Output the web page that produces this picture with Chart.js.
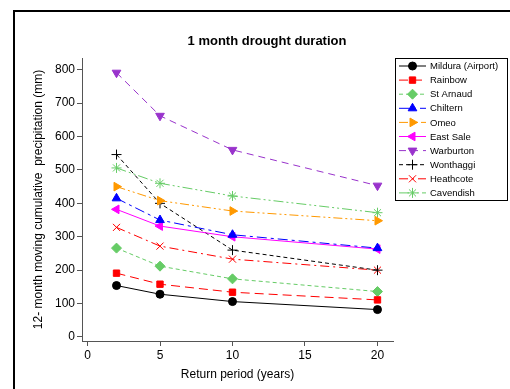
<!DOCTYPE html>
<html lang="en">
<head>
    <meta charset="UTF-8">
    <title>1 month drought duration</title>
    <script src="https://cdn.jsdelivr.net/npm/chart.js"></script>
    <style>
        body {
            margin: 0;
            background: #fff;
            overflow: hidden;
        }
        .wrap {
            width: 510px;
            height: 389px;
            position: relative;
        }
    </style>
</head>
<body>
<div class="wrap"><canvas id="droughtChart"></canvas></div>

<script>
    // return periods (years)
    const returnPeriods = [2, 5, 10, 20];
    const xTicks = [0, 5, 10, 15, 20];
    const yTicks = [0, 100, 200, 300, 400, 500, 600, 700, 800];

    const stations = ['Mildura (Airport)', 'Rainbow', 'St Arnaud', 'Chiltern', 'Omeo',
                      'East Sale', 'Warburton', 'Wonthaggi', 'Heathcote', 'Cavendish'];

    const mildura   = [154, 128, 106, 82];
    const rainbow   = [191, 158, 134, 111];
    const stArnaud  = [266, 212, 174, 136];
    const chiltern  = [415, 350, 306, 266];
    const omeo      = [450, 408, 377, 348];
    const eastSale  = [382, 332, 300, 263];
    const warburton = [791, 662, 560, 453];
    const wonthaggi = [546, 400, 260, 200];
    const heathcote = [328, 272, 233, 200];
    const cavendish = [506, 460, 422, 372];

    const seriesValues = [mildura, rainbow, stArnaud, chiltern, omeo,
                          eastSale, warburton, wonthaggi, heathcote, cavendish];

    // look of each series: colour, dash, marker
    const styles = [
        { color: '#000000', dash: [],              point: 'circle',   rot: 0,   r: 4 },
        { color: '#ff0000', dash: [9, 5],          point: 'rect',     rot: 0,   r: 4.5 },
        { color: '#66cc66', dash: [4, 3],          point: 'rectRot',  rot: 0,   r: 5 },
        { color: '#0000ff', dash: [10, 4, 3, 4],   point: 'triangle', rot: 0,   r: 5 },
        { color: '#ff9900', dash: [9, 3, 2, 3, 2, 3], point: 'triangle', rot: 90, r: 5 },
        { color: '#ff00ff', dash: [],              point: 'triangle', rot: -90, r: 5 },
        { color: '#9933cc', dash: [7, 5],          point: 'triangle', rot: 180, r: 5 },
        { color: '#000000', dash: [4, 3],          point: 'cross',    rot: 0,   r: 5 },
        { color: '#ff0000', dash: [9, 4, 2, 4],    point: 'crossRot', rot: 0,   r: 5 },
        { color: '#66cc66', dash: [10, 3, 2, 3, 2, 3], point: 'star', rot: 0,   r: 5 }
    ];

    const datasets = stations.map((name, i) => ({
        label: name,
        data: returnPeriods.map((x, j) => ({ x: x, y: seriesValues[i][j] })),
        borderColor: styles[i].color,
        backgroundColor: styles[i].color,
        borderWidth: 1,
        borderDash: styles[i].dash,
        pointStyle: styles[i].point,
        pointRotation: styles[i].rot,
        pointRadius: styles[i].r,
        pointBorderWidth: 1,
        tension: 0
    }));

    const fontFamily = "'Liberation Sans', Arial, sans-serif";

    // outer frame + title + boxed legend
    const decorations = {
        id: 'decorations',
        beforeDraw(chart) {
            const ctx = chart.ctx;
            ctx.save();
            ctx.fillStyle = '#fff';
            ctx.fillRect(0, 0, chart.width, chart.height);
            ctx.strokeStyle = '#000';
            ctx.lineWidth = 2;
            ctx.strokeRect(14, 11, 600, 500);
            ctx.restore();
        },
        afterDraw(chart) {
            const ctx = chart.ctx;
            ctx.save();
            ctx.fillStyle = '#000';
            ctx.font = 'bold 13px ' + fontFamily;
            ctx.textAlign = 'center';
            ctx.textBaseline = 'middle';
            ctx.fillText('1 month drought duration', 267, 41);

            // legend box
            const lx = 395.5, ly = 58.5, lw = 112, lh = 142;
            ctx.strokeStyle = '#000';
            ctx.lineWidth = 1;
            ctx.strokeRect(lx, ly, lw, lh);
            ctx.font = '9.5px ' + fontFamily;
            ctx.textAlign = 'left';
            chart.data.datasets.forEach((ds, i) => {
                const y = 66 + i * 14.1;
                ctx.strokeStyle = ds.borderColor;
                ctx.fillStyle = ds.borderColor;
                ctx.lineWidth = 1;
                ctx.setLineDash(ds.borderDash);
                ctx.beginPath();
                ctx.moveTo(399, y);
                ctx.lineTo(426, y);
                ctx.stroke();
                ctx.setLineDash([]);
                Chart.helpers.drawPoint(ctx, {
                    pointStyle: ds.pointStyle,
                    rotation: ds.pointRotation,
                    radius: ds.pointRadius,
                    borderWidth: 1
                }, 412.5, y);
                ctx.fillStyle = '#000';
                ctx.fillText(ds.label, 430, y + 0.5);
            });
            ctx.restore();
        }
    };

    new Chart(document.getElementById('droughtChart'), {
        type: 'line',
        data: { datasets: datasets },
        options: {
            responsive: true,
            maintainAspectRatio: false,
            animation: false,
            layout: { padding: { top: 58, right: 117, left: 0, bottom: 0 } },
            plugins: {
                legend: { display: false },
                tooltip: { enabled: false },
                title: { display: false }
            },
            scales: {
                x: {
                    type: 'linear',
                    min: -0.38,
                    max: 21.07,
                    afterBuildTicks: s => { s.ticks = xTicks.map(v => ({ value: v })); },
                    afterFit: s => { s.height = 48; },
                    grid: { drawOnChartArea: false, drawTicks: true, tickLength: 5, color: '#555' },
                    border: { display: true, color: '#555', width: 1 },
                    ticks: { color: '#000', font: { family: fontFamily, size: 12 }, padding: 2, maxRotation: 0 },
                    title: {
                        display: true,
                        text: 'Return period (years)',
                        color: '#000',
                        font: { family: fontFamily, size: 12 },
                        padding: { top: 0, bottom: 7 }
                    }
                },
                y: {
                    type: 'linear',
                    min: -12,
                    max: 835,
                    afterBuildTicks: s => { s.ticks = yTicks.map(v => ({ value: v })); },
                    afterFit: s => { s.width = 82; },
                    grid: { drawOnChartArea: false, drawTicks: true, tickLength: 5, color: '#555' },
                    border: { display: true, color: '#555', width: 1 },
                    ticks: { color: '#000', font: { family: fontFamily, size: 12 }, padding: 2 },
                    title: {
                        display: true,
                        text: '12- month moving cumulative  precipitation (mm)',
                        color: '#000',
                        font: { family: fontFamily, size: 12 },
                        padding: { top: 31, bottom: 0 }
                    }
                }
            }
        },
        plugins: [decorations]
    });
</script>
</body>
</html>
